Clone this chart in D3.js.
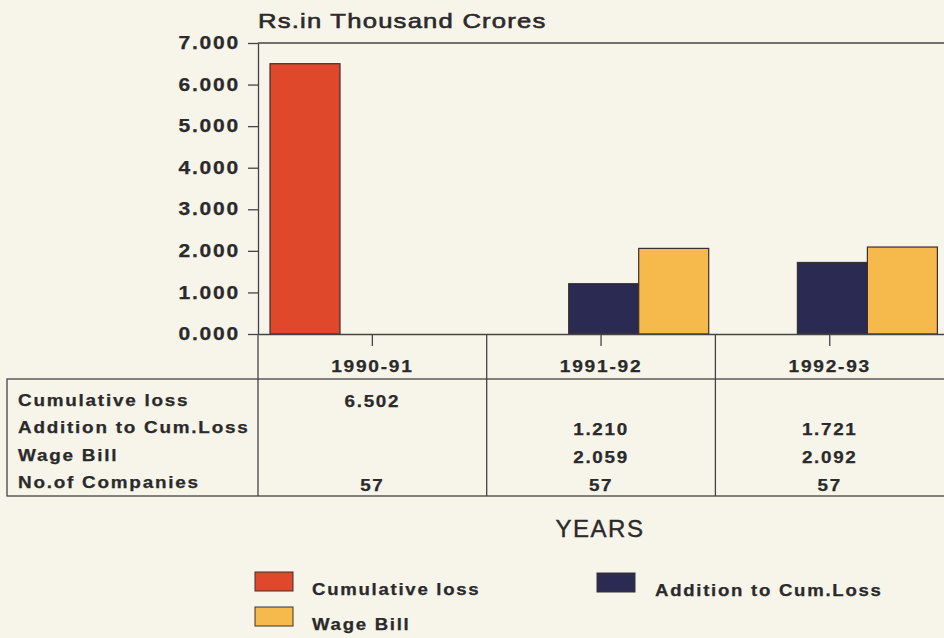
<!DOCTYPE html>
<html>
<head>
<meta charset="utf-8">
<script src="https://cdn.jsdelivr.net/npm/d3@7"></script>
<style>
  html, body { margin: 0; padding: 0; background: #f7f4ea; }
  svg { display: block; }
  .lbl { font-family: "Liberation Sans", Arial, sans-serif; font-weight: bold; fill: #2a2a2a; stroke: #2a2a2a; stroke-width: 0.25px; letter-spacing: 1.5px; }
</style>
</head>
<body>
<div id="chart"></div>
<script>
// chart data
const years = ['1990-91', '1991-92', '1992-93'];
const seriesNames = ['Cumulative loss', 'Addition to Cum.Loss', 'Wage Bill'];
const cumulativeLoss = [6.502, null, null];
const additionToCumLoss = [null, 1.210, 1.721];
const wageBill = [null, 2.059, 2.092];
const companies = [57, 57, 57];
const yTicks = [0, 1, 2, 3, 4, 5, 6, 7];
const colors = ['#e0482c', '#2b2a52', '#f6b94b'];

const chartW = 944, chartH = 638;
const plotLeft = 258, plotRight = 944, plotTop = 43, base = 334;
const tableTop = 379, tableBottom = 496, tableLeft = 7;

// the old typeface is wide: stretch glyphs horizontally
function widen(sel, k) {
  sel.each(function() {
    const w = this.getComputedTextLength();
    d3.select(this).attr('textLength', w * k).attr('lengthAdjust', 'spacingAndGlyphs');
  });
}

const svg = d3.select('#chart').append('svg')
    .attr('width', chartW)
    .attr('height', chartH);

svg.append('rect').attr('width', chartW).attr('height', chartH).attr('fill', '#f7f4ea');

const series = [cumulativeLoss, additionToCumLoss, wageBill];

// scales
const x0 = d3.scaleBand().domain(years).range([plotLeft, plotLeft + 3 * 228.7]).padding(0);
const x1 = d3.scaleBand().domain(seriesNames).range([12, 222]).padding(0);
const y = d3.scaleLinear().domain([0, 7]).range([base, plotTop]);

// top frame line
svg.append('line')
    .attr('x1', plotLeft).attr('x2', plotRight).attr('y1', plotTop).attr('y2', plotTop)
    .attr('stroke', '#444').attr('stroke-width', 1.3);

// y axis
const yAxis = svg.append('g')
    .attr('transform', `translate(${plotLeft},0)`)
    .call(d3.axisLeft(y).tickValues(yTicks).tickFormat(d3.format('.3f')).tickSize(10).tickSizeOuter(0).tickPadding(8));
yAxis.select('.domain').attr('stroke', '#444').attr('stroke-width', 1.3);
yAxis.selectAll('.tick line').attr('stroke', '#444').attr('stroke-width', 1.3);
yAxis.selectAll('text')
    .attr('class', 'lbl')
    .style('font-size', '17.5px')
    .attr('fill', '#2a2a2a')
    .call(widen, 1.2);

// bars
const barData = [];
years.forEach((yr, i) => {
  series.forEach((s, j) => {
    if (s[i] != null) barData.push({ year: yr, name: seriesNames[j], value: s[i], color: colors[j] });
  });
});

svg.append('g').selectAll('rect')
    .data(barData)
    .enter()
    .append('rect')
    .attr('x', d => x0(d.year) + x1(d.name))
    .attr('y', d => y(d.value))
    .attr('width', x1.bandwidth())
    .attr('height', d => base - y(d.value))
    .attr('fill', d => d.color)
    .attr('stroke', '#3a3030')
    .attr('stroke-width', 1.2);

// x axis (category labels sit in the table header row)
const xAxis = svg.append('g')
    .attr('transform', `translate(0,${base})`)
    .call(d3.axisBottom(x0).tickSize(12).tickSizeOuter(0).tickPadding(14));
xAxis.select('.domain').attr('stroke', '#444').attr('stroke-width', 1.3);
xAxis.selectAll('.tick line').attr('stroke', '#444').attr('stroke-width', 1.3);
xAxis.selectAll('text')
    .attr('class', 'lbl')
    .style('font-size', '16.5px')
    .attr('fill', '#2a2a2a')
    .call(widen, 1.16);

// table grid
const grid = svg.append('g').attr('stroke', '#444').attr('stroke-width', 1.3).attr('fill', 'none');
grid.append('rect')
    .attr('x', tableLeft).attr('y', tableTop)
    .attr('width', plotRight + 5 - tableLeft).attr('height', tableBottom - tableTop);
grid.append('line').attr('x1', plotLeft).attr('x2', plotLeft).attr('y1', base).attr('y2', tableBottom);
years.slice(1).forEach(yr => {
  grid.append('line')
      .attr('x1', x0(yr)).attr('x2', x0(yr))
      .attr('y1', base).attr('y2', tableBottom);
});

// table row labels
const rowNames = ['Cumulative loss', 'Addition to Cum.Loss', 'Wage Bill', 'No.of Companies'];
const rowY = d3.scalePoint().domain(rowNames).range([406, 488]);
const valY = d3.scalePoint().domain(rowNames).range([407, 491]);

svg.append('g').selectAll('text')
    .data(rowNames)
    .enter()
    .append('text')
    .attr('class', 'lbl')
    .attr('x', 18)
    .attr('y', d => rowY(d))
    .style('font-size', '16px')
    .text(d => d)
    .call(widen, 1.18);

// table values
const cells = [];
years.forEach((yr, i) => {
  series.forEach((s, j) => {
    if (s[i] != null) cells.push({ year: yr, row: seriesNames[j], text: d3.format('.3f')(s[i]) });
  });
  cells.push({ year: yr, row: 'No.of Companies', text: String(companies[i]) });
});

svg.append('g').selectAll('text')
    .data(cells)
    .enter()
    .append('text')
    .attr('class', 'lbl')
    .attr('x', d => x0(d.year) + x0.bandwidth() / 2)
    .attr('y', d => valY(d.row))
    .attr('text-anchor', 'middle')
    .style('font-size', '16.5px')
    .text(d => d.text)
    .call(widen, 1.14);

// titles
svg.append('text')
    .attr('x', 258).attr('y', 28)
    .style('font-family', '"Liberation Sans", Arial, sans-serif')
    .style('font-size', '21px')
    .style('letter-spacing', '1px')
    .attr('fill', '#2a2a2a').attr('stroke', '#2a2a2a').attr('stroke-width', 0.6)
    .text('Rs.in Thousand Crores')
    .call(widen, 1.22);

svg.append('text')
    .attr('x', 600).attr('y', 537)
    .attr('text-anchor', 'middle')
    .style('font-family', '"Liberation Sans", Arial, sans-serif')
    .style('font-size', '24px')
    .style('letter-spacing', '1.5px')
    .attr('fill', '#2a2a2a').attr('stroke', '#2a2a2a').attr('stroke-width', 0.4)
    .text('YEARS');

// legend
const legendPos = [
  { name: 'Cumulative loss', x: 255, y: 572 },
  { name: 'Addition to Cum.Loss', x: 597, y: 573 },
  { name: 'Wage Bill', x: 255, y: 607 }
];
const legend = svg.append('g').selectAll('g')
    .data(legendPos)
    .enter()
    .append('g')
    .attr('transform', d => `translate(${d.x},${d.y})`);
legend.append('rect')
    .attr('width', 38).attr('height', 19)
    .attr('fill', d => colors[seriesNames.indexOf(d.name)])
    .attr('stroke', '#3a3030').attr('stroke-width', 1);
legend.append('text')
    .attr('class', 'lbl')
    .attr('x', d => d.x === 255 ? 57 : 58)
    .attr('y', 23)
    .style('font-size', '16px')
    .text(d => d.name)
    .call(widen, 1.16);
</script>
</body>
</html>
